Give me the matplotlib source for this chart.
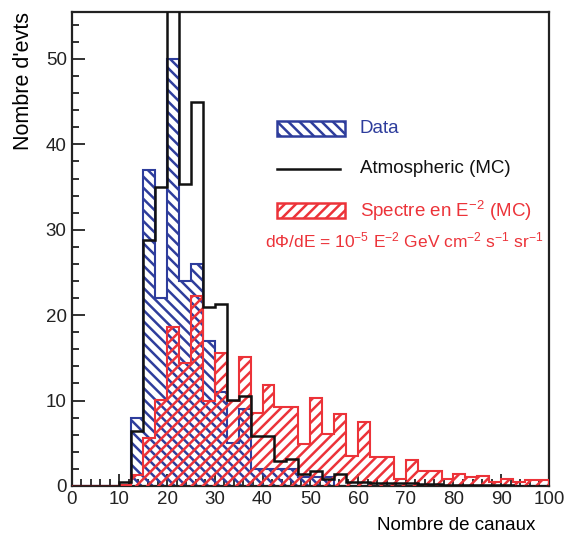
import numpy as np
import matplotlib
matplotlib.use("Agg")
import matplotlib.pyplot as plt
from matplotlib.patches import Rectangle
from matplotlib.lines import Line2D
from matplotlib.ticker import MultipleLocator

plt.rcParams['font.family'] = ['Liberation Sans', 'DejaVu Sans']
plt.rcParams['mathtext.default'] = 'regular'
plt.rcParams['hatch.linewidth'] = 1.8

# bins of 2.5 "canaux" from 0 to 100
bin_edges = np.arange(0, 100.01, 2.5)

data_counts = [0, 0, 0, 0, 0, 8, 37, 22, 50, 24, 26, 17, 11, 5, 9, 2, 2, 2, 2, 1,
               1, 1, 0, 0, 0, 0, 0, 0, 0, 0, 0, 0, 0, 0, 0, 0, 0, 0, 0, 0]
atm_mc = [0, 0, 0, 0, 0.5, 6.4, 28.8, 35.0, 57, 35.4, 45.0, 21.0, 21.3, 10.1, 10.5, 5.9,
          5.9, 2.9, 3.2, 1.4, 1.8, 0.8, 1.4, 0.5, 0.5, 0.4, 0.4, 0.3, 0.3, 0.2,
          0.2, 0.15, 0.15, 0.1, 0.1, 0.1, 0.1, 0.05, 0.05, 0.05]
e2_mc = [0, 0, 0, 0, 0.15, 1.3, 5.6, 10.1, 18.65, 14.4, 22.2, 10.0, 15.6, 9.9, 15.1, 8.6,
         11.8, 9.3, 9.3, 4.9, 10.3, 6.05, 8.4, 3.5, 7.45, 3.4, 3.4, 0.8, 3.0, 1.8,
         1.8, 0.85, 1.4, 1.0, 1.2, 0.45, 0.8, 0.45, 0.7, 0.65]

BLUE = '#2e3d9c'
RED = '#ec3339'
BLACK = '#111111'
HB = '\\\\\\'
HR = '///'
FS = 13.5

fig = plt.figure(figsize=(5.68, 5.37), dpi=100)
ax = fig.add_axes([0.126, 0.095, 0.8405, 0.8827])

ax.stairs(data_counts, bin_edges, fill=True, facecolor='none', edgecolor=BLUE,
          hatch=HB, linewidth=1.5, zorder=2)
ax.stairs(e2_mc, bin_edges, fill=True, facecolor='none', edgecolor=RED,
          hatch=HR, linewidth=1.5, zorder=3)
ax.stairs(atm_mc, bin_edges, fill=False, color=BLACK, linewidth=1.8, zorder=4)

ax.set_xlim(0, 100)
ax.set_ylim(0, 55.5)
ax.xaxis.set_major_locator(MultipleLocator(10))
ax.xaxis.set_minor_locator(MultipleLocator(2))
ax.yaxis.set_major_locator(MultipleLocator(10))
ax.yaxis.set_minor_locator(MultipleLocator(2))
ax.tick_params(which='both', direction='in', top=False, right=False,
               labelsize=FS, width=1.3, colors='#222222')
ax.tick_params(which='major', length=9)
ax.tick_params(which='minor', length=5)
for s in ax.spines.values():
    s.set_linewidth(1.6)
    s.set_color('#222222')

ax.set_xlabel('Nombre de canaux', fontsize=FS, ha='right')
ax.xaxis.set_label_coords(0.971, -0.065)
ax.set_ylabel("Nombre d'evts", fontsize=15.5, ha='right')
ax.yaxis.set_label_coords(-0.078, 1.0)

# legend drawn manually in axes coordinates
tr = ax.transAxes
ax.add_patch(Rectangle((0.430, 0.738), 0.143, 0.032, transform=tr, facecolor='none',
                       edgecolor=BLUE, hatch=HB, linewidth=1.8, zorder=5))
ax.text(0.604, 0.755, 'Data', transform=tr, color=BLUE, fontsize=FS, va='center')
ax.add_artist(Line2D([0.430, 0.563], [0.669, 0.669], transform=tr, color=BLACK,
                     linewidth=1.8))
ax.text(0.604, 0.669, 'Atmospheric (MC)', transform=tr, color=BLACK, fontsize=FS,
        va='center')
ax.add_patch(Rectangle((0.430, 0.565), 0.143, 0.032, transform=tr, facecolor='none',
                       edgecolor=RED, hatch=HR, linewidth=1.8, zorder=5))
ax.text(0.604, 0.580, 'Spectre en E$^{-2}$ (MC)', transform=tr, color=RED,
        fontsize=FS, va='center')
ax.text(0.405, 0.517, r'd$\Phi$/dE = 10$^{-5}$ E$^{-2}$ GeV cm$^{-2}$ s$^{-1}$ sr$^{-1}$',
        transform=tr, color=RED, fontsize=12.5, va='center')

fig.savefig('out.png', dpi=100)
